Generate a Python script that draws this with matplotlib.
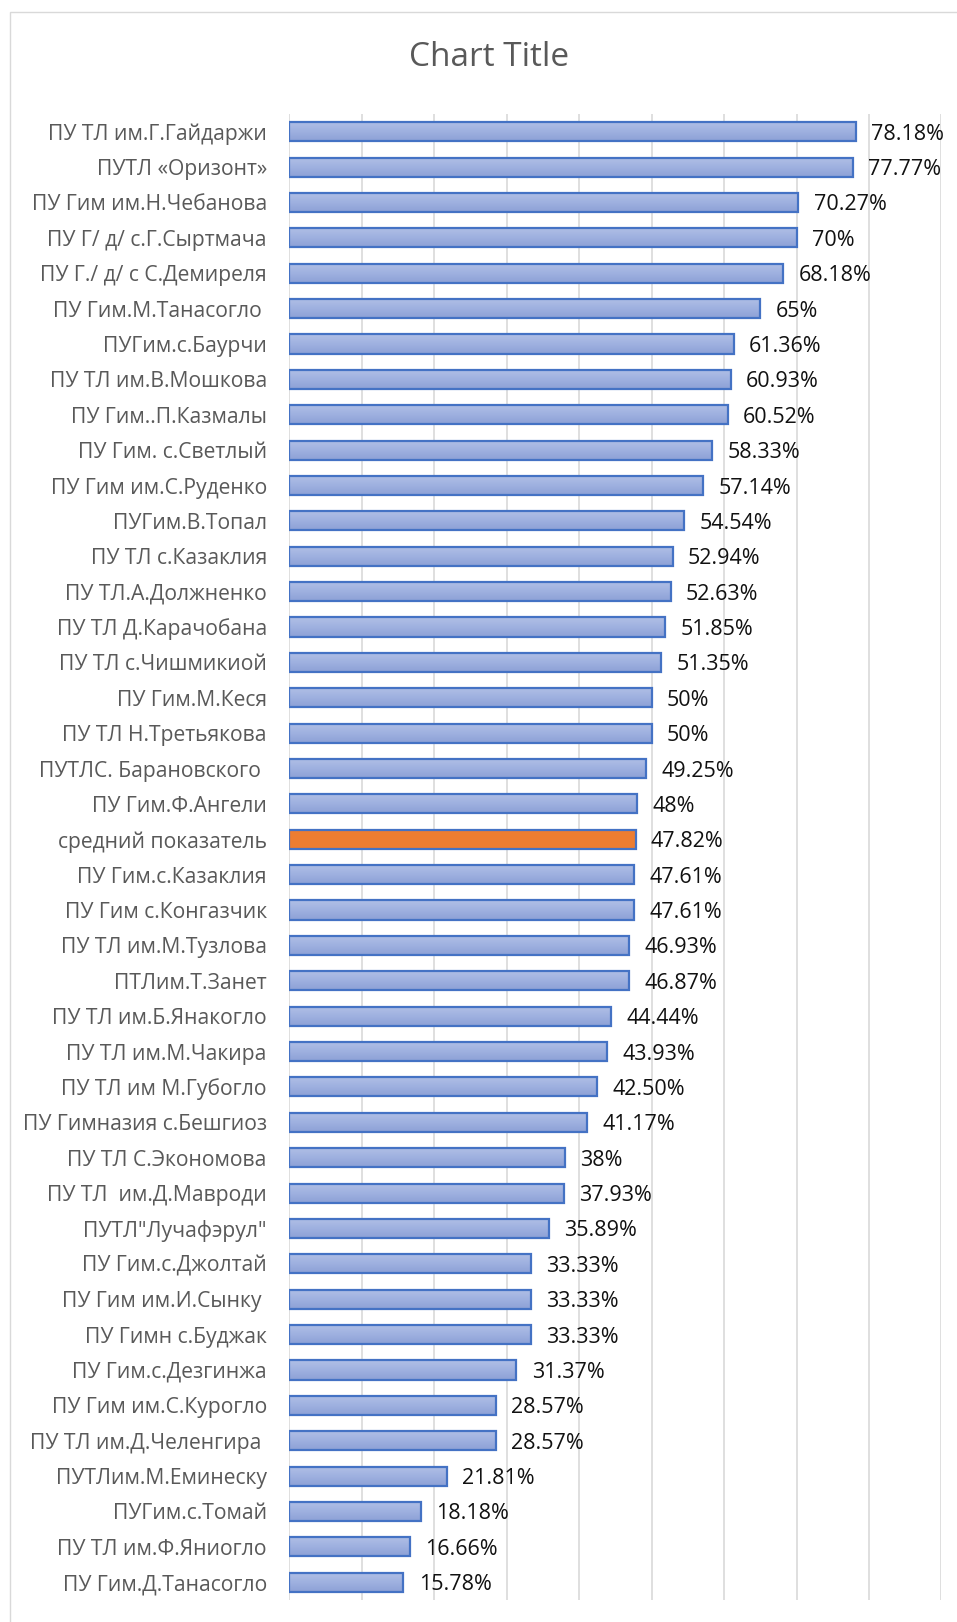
import matplotlib
matplotlib.use("Agg")
import matplotlib.pyplot as plt
import numpy as np
from matplotlib.patches import Rectangle
from matplotlib.colors import LinearSegmentedColormap

plt.rcParams['font.family'] = ['Open Sans', 'DejaVu Sans']

# schools, top to bottom as in the chart
schools = [
    "ПУ ТЛ им.Г.Гайдаржи", "ПУТЛ «Оризонт»", "ПУ Гим им.Н.Чебанова",
    "ПУ Г/ д/ с.Г.Сыртмача", "ПУ Г./ д/ с С.Демиреля", "ПУ Гим.М.Танасогло ",
    "ПУГим.с.Баурчи", "ПУ ТЛ им.В.Мошкова", "ПУ Гим..П.Казмалы",
    "ПУ Гим. с.Светлый", "ПУ Гим им.С.Руденко", "ПУГим.В.Топал",
    "ПУ ТЛ с.Казаклия", "ПУ ТЛ.А.Должненко", "ПУ ТЛ Д.Карачобана",
    "ПУ ТЛ с.Чишмикиой", "ПУ Гим.М.Кеся", "ПУ ТЛ Н.Третьякова",
    "ПУТЛС. Барановского ", "ПУ Гим.Ф.Ангели", "средний показатель",
    "ПУ Гим.с.Казаклия", "ПУ Гим с.Конгазчик", "ПУ ТЛ им.М.Тузлова",
    "ПТЛим.Т.Занет", "ПУ ТЛ им.Б.Янакогло", "ПУ ТЛ им.М.Чакира",
    "ПУ ТЛ им М.Губогло", "ПУ Гимназия с.Бешгиоз", "ПУ ТЛ С.Экономова",
    "ПУ ТЛ  им.Д.Мавроди", "ПУТЛ\"Лучафэрул\"", "ПУ Гим.с.Джолтай",
    "ПУ Гим им.И.Сынку ", "ПУ Гимн с.Буджак", "ПУ Гим.с.Дезгинжа",
    "ПУ Гим им.С.Курогло", "ПУ ТЛ им.Д.Челенгира ", "ПУТЛим.М.Еминеску",
    "ПУГим.с.Томай", "ПУ ТЛ им.Ф.Яниогло", "ПУ Гим.Д.Танасогло",
]
percent = [
    78.18, 77.77, 70.27, 70, 68.18, 65, 61.36, 60.93, 60.52, 58.33, 57.14,
    54.54, 52.94, 52.63, 51.85, 51.35, 50, 50, 49.25, 48, 47.82, 47.61,
    47.61, 46.93, 46.87, 44.44, 43.93, 42.50, 41.17, 38, 37.93, 35.89,
    33.33, 33.33, 33.33, 31.37, 28.57, 28.57, 21.81, 18.18, 16.66, 15.78,
]
value_labels = [
    "78.18%", "77.77%", "70.27%", "70%", "68.18%", "65%", "61.36%", "60.93%",
    "60.52%", "58.33%", "57.14%", "54.54%", "52.94%", "52.63%", "51.85%",
    "51.35%", "50%", "50%", "49.25%", "48%", "47.82%", "47.61%", "47.61%",
    "46.93%", "46.87%", "44.44%", "43.93%", "42.50%", "41.17%", "38%",
    "37.93%", "35.89%", "33.33%", "33.33%", "33.33%", "31.37%", "28.57%",
    "28.57%", "21.81%", "18.18%", "16.66%", "15.78%",
]
average_label = "средний показатель"

fig = plt.figure(figsize=(9.57, 16.22), dpi=100)
ax = fig.add_axes([0.302, 0.0136, 0.6818, 0.9161])

# light frame of the chart area
fig.patches.append(Rectangle((10 / 957, -0.01), 1.0, 1 - 12 / 1622 + 0.01,
                             transform=fig.transFigure, fill=False,
                             edgecolor="#d9d9d9", linewidth=1.0))

y = np.arange(len(schools))
bars = ax.barh(y, percent, height=0.54, facecolor="none",
               edgecolor="#4472c4", linewidth=1.6, zorder=3)

grad = LinearSegmentedColormap.from_list("g", ["#b1c0e6", "#9fb1e0", "#8da1d6"])
grad_img = np.linspace(0, 1, 64).reshape(-1, 1)
for name, b in zip(schools, bars):
    x0, y0, w, h = b.get_x(), b.get_y(), b.get_width(), b.get_height()
    if name == average_label:
        b.set_facecolor("#ed7d31")
        continue
    ax.imshow(grad_img, cmap=grad, aspect="auto", interpolation="bilinear",
              extent=(x0, x0 + w, y0 + h, y0), zorder=2)

texts = ax.bar_label(bars, labels=value_labels, padding=11, fontsize=15.5,
                     color="#111111")
for t in texts:
    t.set_va("center_baseline")

ax.set_xlim(0, 90)
ax.set_ylim(len(schools) - 0.5, -0.5)
ax.set_xticks(np.arange(0, 91, 10))
ax.set_xticklabels([])
ax.set_yticks(y)
ax.set_yticklabels(schools, fontsize=15.2, color="#595959")
ax.tick_params(axis="both", length=0)
ax.tick_params(axis="y", pad=16)
ax.grid(axis="x", color="#d9d9d9", linewidth=1.2)
ax.set_axisbelow(True)
for s in ax.spines.values():
    s.set_visible(False)

fig.text(489 / 957, 1 - 57 / 1622, "Chart Title", fontsize=24,
         color="#595959", ha="center", va="center")

fig.savefig("out.png", dpi=100)
